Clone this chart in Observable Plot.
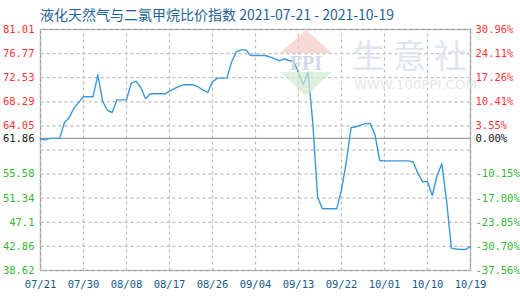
<!DOCTYPE html>
<html>
<head>
<meta charset="utf-8">
<script src="https://cdn.jsdelivr.net/npm/d3@7"></script>
<script src="https://cdn.jsdelivr.net/npm/@observablehq/plot@0.6"></script>
<style>
  html, body { margin: 0; padding: 0; background: #fff; }
  #wrap { position: relative; width: 520px; height: 300px; overflow: hidden; }
  #title { height: 20px; padding-left: 40px; font: 14px "Noto Sans CJK SC", "Noto Sans", sans-serif; color: #1f6396; line-height: 28px; white-space: nowrap; }
  .wm { position: absolute; pointer-events: none; }
</style>
</head>
<body>
<div id="wrap">
  <div id="title">液化天然气与二氯甲烷比价指数 2021-07-21 - 2021-10-19</div>
  <div id="chart"></div>
</div>
<script>
// Daily price-ratio index, 2021-07-21 .. 2021-10-19
const startDate = "2021-07-21";
const values = [
  61.74, 61.6, 61.86, 61.86, 61.86, 64.6, 65.5, 67.2, 68.2, 69.17,
  69.17, 69.17, 73.04, 68.4, 66.8, 66.41, 68.64, 68.64, 68.64, 71.57,
  71.9, 70.8, 68.82, 69.7, 69.7, 69.7, 69.7, 70.15, 70.6, 71.0,
  71.28, 71.28, 71.28, 70.9, 70.4, 69.93, 71.8, 72.45, 72.45, 72.45,
  75.3, 77.1, 77.43, 77.43, 76.44, 76.44, 76.44, 76.44, 76.2, 75.9,
  75.5, 75.86, 75.56, 75.44, 73.4, 71.3, 73.5, 64.5, 51.5, 49.47,
  49.47, 49.47, 49.47, 52.8, 57.7, 63.72, 63.9, 64.2, 64.45, 64.5,
  62.5, 57.97, 57.91, 57.91, 57.91, 57.91, 57.91, 57.91, 57.7, 55.7,
  54.22, 54.22, 51.81, 55.3, 57.39, 50.8, 42.55, 42.4, 42.32, 42.32,
  42.84
];

// Axis settings
const baseValue = 61.86;
const yMin = 38.62, yMax = 81.01;
const gridValues = [81.01, 76.77, 72.53, 68.29, 64.05, 59.81, 55.58, 51.34, 47.1, 42.86, 38.62];
const leftTickValues = [81.01, 76.77, 72.53, 68.29, 64.05, 61.86, 55.58, 51.34, 47.1, 42.86, 38.62];
const leftTickLabels = ["81.01", "76.77", "72.53", "68.29", "64.05", "61.86", "55.58", "51.34", "47.1", "42.86", "38.62"];
const rightTickLabels = ["30.96%", "24.11%", "17.26%", "10.41%", "3.55%", "0.00%", "-10.15%", "-17.00%", "-23.85%", "-30.70%", "-37.56%"];
const xTickLabels = ["07/21", "07/30", "08/08", "08/17", "08/26", "09/04", "09/13", "09/22", "10/01", "10/10", "10/19"];

const t0 = new Date(startDate + "T00:00:00Z");
const t1 = d3.utcDay.offset(t0, 90);
const series = values.map((v, i) => ({date: d3.utcDay.offset(t0, i), value: v}));
const xTicks = xTickLabels.map((_, i) => d3.utcDay.offset(t0, i * 9));

const leftRows = leftTickValues.map((v, i) => ({v, label: leftTickLabels[i]}));
const rightRows = leftTickValues.map((v, i) => ({v, label: rightTickLabels[i]}));
const tickRows = xTicks.map((d, i) => ({d, label: xTickLabels[i]}));

// Grid segments spanning the whole plot area
const hGrid = gridValues.map(v => ({x1: t0, x2: t1, y1: v, y2: v}));
const vGrid = xTicks.map(d => ({x1: d, x2: d, y1: yMin, y2: yMax}));

const colorFor = v => v > baseValue ? "#ff3333" : v < baseValue ? "#33b833" : "#111";
const mono = "'DejaVu Sans Mono', 'Liberation Mono', monospace";
const gridStyle = {x1: "x1", x2: "x2", y1: "y1", y2: "y2", stroke: "#bdbdbd", strokeWidth: 1.2, strokeDasharray: "3,3"};

const chart = Plot.plot({
  width: 520,
  height: 280,
  marginTop: 9,
  marginBottom: 30,
  marginLeft: 40,
  marginRight: 50,
  style: {background: "#fff", fontFamily: mono},
  x: {type: "utc", domain: [t0, t1], axis: null},
  y: {domain: [yMin, yMax], axis: null},
  marks: [
    Plot.frame({stroke: "#999", strokeWidth: 1.3}),
    Plot.link(hGrid, gridStyle),
    Plot.link(vGrid, gridStyle),
    Plot.ruleY([baseValue], {stroke: "#999", strokeWidth: 1.3}),
    Plot.line(series, {x: "date", y: "value", stroke: "#3a9ad9", strokeWidth: 1.4}),
    Plot.text(leftRows, {y: "v", text: "label", frameAnchor: "left", textAnchor: "end", dx: -6,
      fill: d => colorFor(d.v), fontSize: 10.5, fontFamily: mono}),
    Plot.text(rightRows, {y: "v", text: "label", frameAnchor: "right", textAnchor: "start", dx: 5,
      fill: d => colorFor(d.v), fontSize: 10.5, fontFamily: mono}),
    Plot.text(tickRows, {x: "d", text: "label", frameAnchor: "bottom", dy: 17,
      fill: "#145a8c", fontSize: 10.5, fontFamily: mono})
  ]
});
document.getElementById("chart").appendChild(chart);

// Faint site watermark over the upper right of the plot
const wrap = document.getElementById("wrap");
wrap.insertAdjacentHTML("beforeend", `
  <svg class="wm" style="left:278px;top:28px" width="56" height="70" viewBox="0 0 56 70">
    <polygon points="28,2 54,25 2,25" fill="#f3c9c4" opacity="0.7"/>
    <text x="28" y="42" text-anchor="middle" font-family="Liberation Serif, serif" font-size="20" font-weight="bold" fill="#c9d3e6" opacity="0.85">FPI</text>
    <polygon points="2,44 54,44 28,68" fill="#cfe8cf" opacity="0.7"/>
  </svg>
  <div class="wm" style="left:352px;top:30px;font:33px 'Noto Sans CJK SC',sans-serif;letter-spacing:8px;color:#dde3ee;opacity:0.9">生意社</div>
  <div class="wm" style="left:354px;top:77px;font:13px 'DejaVu Sans',sans-serif;color:#e6e6e6;letter-spacing:0.2px">WWW.100PPI.COM</div>
`);
</script>
</body>
</html>
